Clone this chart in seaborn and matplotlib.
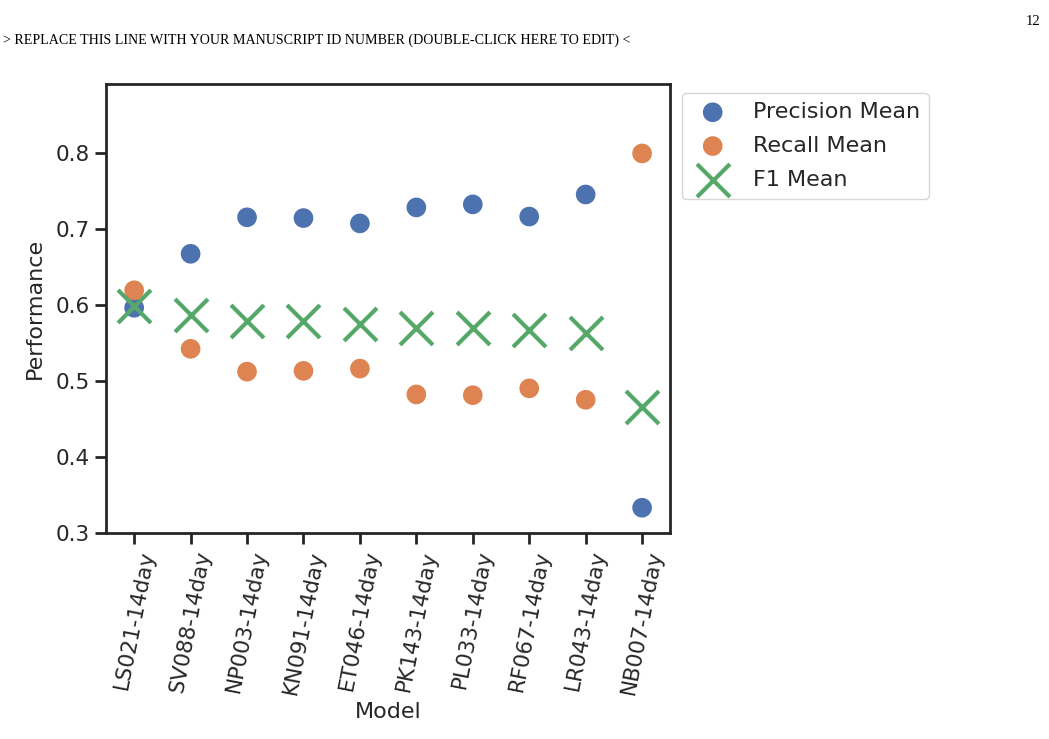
import pandas as pd
import matplotlib
matplotlib.use("Agg")
import matplotlib.pyplot as plt
import seaborn as sns

# values
models = ["LS021-14day", "SV088-14day", "NP003-14day", "KN091-14day", "ET046-14day",
          "PK143-14day", "PL033-14day", "RF067-14day", "LR043-14day", "NB007-14day"]
precision_mean = [0.596, 0.667, 0.715, 0.714, 0.707, 0.728, 0.732, 0.716, 0.745, 0.333]
recall_mean = [0.619, 0.542, 0.512, 0.513, 0.516, 0.482, 0.481, 0.490, 0.475, 0.799]
f1_mean = [0.598, 0.587, 0.578, 0.578, 0.575, 0.570, 0.569, 0.567, 0.563, 0.465]

sns.set_theme(style="ticks")
plt.rcParams["font.family"] = ["DejaVu Sans"]

df = pd.DataFrame({"Model": models, "Precision": precision_mean,
                   "Recall": recall_mean, "F1": f1_mean})
pal = sns.color_palette("deep")

fig = plt.figure(figsize=(10.49, 7.39), dpi=100)
ax = fig.add_axes([0.101, 0.279, 0.538, 0.607])

sns.scatterplot(data=df, x="Model", y="Precision", ax=ax, color=pal[0], s=200,
                edgecolor="none", label="Precision Mean")
sns.scatterplot(data=df, x="Model", y="Recall", ax=ax, color=pal[1], s=200,
                edgecolor="none", label="Recall Mean")
sns.scatterplot(data=df, x="Model", y="F1", ax=ax, color=pal[2], s=560, marker="x",
                linewidth=3, label="F1 Mean")

ax.set_xlim(-0.5, len(models) - 0.5)
ax.set_ylim(0.3, 0.89)
ax.set_yticks([0.3, 0.4, 0.5, 0.6, 0.7, 0.8])
ax.set_xlabel("Model", fontsize=16)
ax.set_ylabel("Performance", fontsize=16, labelpad=8)
ax.tick_params(axis="both", labelsize=15.5, length=8, width=2)
plt.setp(ax.get_xticklabels(), rotation=79)
for sp in ax.spines.values():
    sp.set_linewidth(2)
    sp.set_color("#262626")

leg = ax.legend(loc="upper left", bbox_to_anchor=(1.02, 0.98), fontsize=16,
                frameon=True, borderaxespad=0, labelspacing=0.62)

# page header of the manuscript
fig.text(0.003, 0.945, "> REPLACE THIS LINE WITH YOUR MANUSCRIPT ID NUMBER (DOUBLE-CLICK HERE TO EDIT) <",
         family="Liberation Serif", fontsize=10.1, va="center", color="black")
fig.text(0.992, 0.971, "12", family="Liberation Serif", fontsize=10.5, ha="right",
         va="center", color="black")

fig.savefig("out.png", dpi=100)
